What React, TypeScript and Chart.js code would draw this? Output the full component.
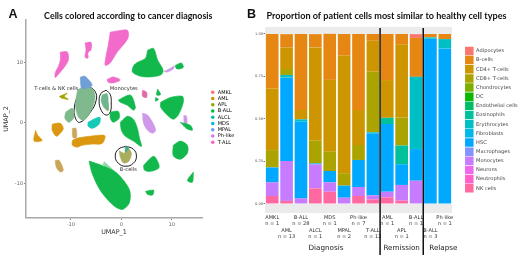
import React, { useEffect, useRef } from "react";
import { Chart, registerables } from "chart.js";

Chart.register(...registerables);

// ---------- Panel A ----------
const diagnoses = ["AMKL", "AML", "APL", "B-ALL", "ALCL", "MDS", "MPAL", "Ph-like", "T-ALL"];
const diagnosisColors = ["#F8766D", "#D39200", "#93AA00", "#00BA38", "#00C19F", "#00B9E3", "#619CFF", "#DB72FB", "#FF61C3"];
const umapXTicks = [-10, 0, 10];
const umapYTicks = [-10, 0, 10];

const PINK = "#f26bcb";
const GREEN = "#12b84c";
const ORANGE = "#da970f";
const TEAL = "#14c9b5";
const LILAC = "#cf98ea";
const LIGHTGREEN = "#8ddcab";
const SAGE = "#7fb98d";
const TAN = "#c9a65a";
const SKY = "#6f9fd6";

type P = number[][];
const pinkBig: P = [[-2.2, 15], [-0.8, 15.2], [1.2, 15.3], [1.4, 14.2], [0.8, 13.3], [-0.8, 11.7], [-2.2, 9.9], [-3.2, 9.5], [-3, 11.2], [-2.6, 12.8]];
const pinkTop: P = [[-7.2, 13.2], [-6, 13.3], [-6, 12.1], [-6.6, 11.6], [-6.6, 10.7], [-7.2, 10.9], [-7, 12.1]];
const pinkLeft: P = [[-12.1, 11.7], [-10.7, 11.7], [-10.5, 10.4], [-11.3, 9.2], [-12.3, 8.2], [-13.1, 7.5], [-13.1, 8.3], [-12.5, 9.3], [-12.1, 10.4]];
const pinkLittle: P = [[-2.8, 7.2], [-1.6, 7.6], [-0.2, 7.1], [-1.6, 6.6], [-2.6, 6.7]];
const pinkDot: P = [[4.2, 5.4], [5, 5.1], [5, 4.2], [4.2, 4.4]];
const greenTop: P = [[5.2, 12], [6.4, 12.3], [7.2, 10.4], [8.3, 8.7], [7.8, 7.9], [5.8, 7.6], [3.8, 7.7], [2.2, 8.4], [2.4, 9.4], [3.2, 10], [4.8, 10.7]];
const greenTiny: P = [[10.7, 9.5], [11.9, 9.9], [12.3, 9.2], [11.5, 8.9], [10.9, 9]];
const lilacTiny: P = [[8.5, 8.5], [9.7, 9], [10.5, 9.4], [10.3, 8.9], [9.1, 8.4]];
const greenRight: P = [[7.8, 3.4], [9.7, 4.2], [12.1, 4.4], [12.3, 3.4], [11.3, 1.3], [10.3, 0.6], [9.1, 1.3], [7.8, 2.6]];
const greenSpeckA: P = [[7.2, 5.6], [7.8, 4.7], [7, 4.6]];
const greenSpeckB: P = [[6.8, 4.2], [7.4, 3.9], [6.8, 3.6]];
const greenNearMono: P = [[-0.6, 3.8], [1.8, 4.6], [2.8, 2.6], [2.4, 2.1], [1.2, 2.9], [-0.2, 3.4]];
const greenMid: P = [[-0.2, 0.1], [1.2, 1.1], [2.4, 0.6], [3.2, -0.9], [3.6, -2.5], [4, -3.9], [2.4, -3], [0.8, -2.2], [0, -1.2]];
const greenSmallMid: P = [[-2.2, 1.8], [-0.6, 1.9], [-0.4, 0.8], [-1.6, 0.1], [-2.2, 0.8]];
const greenLowRight: P = [[10.3, -3.7], [11.7, -3], [13.1, -3.7], [13.1, -5], [11.7, -6], [10.3, -5.4]];
const greenLowMid: P = [[4.4, -7], [6.4, -5.5], [7.4, -6.7], [7.4, -7.5], [5.8, -8], [4.6, -7.8]];
const greenCrescent: P = [[4.8, -11.3], [6.4, -11.1], [6.2, -11.9], [5.2, -11.8]];
const greenSliver: P = [[14.3, -8.1], [14.1, -9.8], [13.1, -9.5]];
const greenHuge: P = [[-6.4, -6.3], [-4.2, -6.9], [-1, -8.2], [1.6, -11], [1.6, -13.2], [0.2, -14.3], [-1.6, -13.6], [-4.2, -11.1], [-5.8, -8.3]];
const greenFringe: P = [[-3.4, -6.4], [-1.8, -7.6], [0.8, -10], [0.6, -10.4], [-2.2, -8], [-3.6, -6.9]];
const tealBlob: P = [[-6.6, 0.1], [-5, 0.8], [-4.2, 0.9], [-4.4, -0.2], [-5.8, -0.9], [-6.6, -0.5]];
const orangeFar: P = [[-17, -1.2], [-16.6, -2], [-15.7, -2.9], [-17.3, -3]];
const orangeMid: P = [[-13.7, -0.2], [-12.1, -0.05], [-11.5, -0.9], [-12.1, -1.7], [-12.9, -2.2], [-13.7, -1.2]];
const orangeLong: P = [[-9.7, -2.9], [-8.7, -2.5], [-6.2, -2.2], [-3.8, -2], [-3.2, -2.2], [-3.8, -3.4], [-5.8, -3.5], [-7.8, -3.7], [-8.7, -4], [-9.7, -3.7]];
const tanStrip: P = [[-9.7, -0.9], [-9, -0.9], [-8.9, -2.4], [-9.6, -2.4]];
const tanSmall: P = [[-13.1, -6.2], [-12.3, -6.2], [-11.5, -7.8], [-12.1, -8.1], [-12.9, -7.3]];
const sageLeft: P = [[-11, 1.8], [-9.7, 2.4], [-9.4, 0.9], [-10.4, 0.1], [-11.2, 0.8]];
const oliveTiny: P = [[-12.3, 4.4], [-10.7, 4.9], [-11.3, 4.4], [-10.5, 3.9], [-11.9, 4.1]];
const skyCap: P = [[-8.15, 7.55], [-7.2, 7.7], [-5.8, 6.2], [-7.8, 5.7]];
const tcellMain: P = [[-8.7, 5.4], [-7.2, 6.1], [-5.8, 5.7], [-5.2, 4.4], [-5.8, 2.4], [-7.4, 0.45], [-8.5, 0.95], [-9.1, 2.9]];
const tcellOrange: P = [[-7.4, 5], [-6.8, 4.8], [-7.2, 2.4], [-8, 1.2], [-8.3, 1.6], [-7.8, 3]];
const tcellLilac: P = [[-6.3, 4.6], [-5.8, 4.2], [-6.3, 2.4], [-6.9, 1.8], [-6.9, 3]];
const monoInner: P = [[-3.8, 4.6], [-2.8, 4.8], [-2.6, 3.3], [-2.6, 2.1], [-3.4, 2.5], [-4, 3.7]];
const monoStreak: P = [[-3.2, 3.9], [-2.7, 3.6], [-2.6, 2], [-3.1, 2.4]];
const bcellInner: P = [[-0.4, -4.6], [0.6, -5], [1.6, -4.4], [2, -5.2], [1.4, -6.4], [0.4, -6.6], [-0.2, -5.6]];
const bcellTip: P = [[0.8, -3.9], [1.4, -4], [1.4, -5.2], [0.8, -5.2]];
const lilacMid: P = [[4.2, 1.6], [5.2, 1.3], [6.2, 0.1], [6.8, -1.2], [6.2, -1.7], [5.2, -1.2], [4.4, -0.05]];
const greenFarRight: P = [[11.7, 0.1], [13.7, -0.4], [14.1, -1.2], [12.9, -0.9]];
const lilacFarRight: P = [[12.4, 1.2], [12.9, 1.2], [13, -0.2], [12.5, -0.2]];
const tRing: P = [[-6.8, 6.2], [-5.2, 5.2], [-5, 3.7], [-6.2, 1.7], [-8.2, 0.1], [-9.1, 0.8], [-9.3, 2.6], [-8.5, 4.6]];
const monoRing: P = [[-3, 5.4], [-2.2, 4.7], [-2, 3.3], [-2.2, 1.8], [-3, 1.3], [-4, 2.1], [-4.4, 3.7], [-4, 4.9]];
const bRing: P = [[0.9, -3.85], [2.4, -4.35], [3, -5.5], [2.4, -6.65], [0.9, -7.15], [-0.6, -6.65], [-1.2, -5.5], [-0.6, -4.35]];

const blobs: [P, string][] = [
  [pinkBig, PINK], [pinkTop, PINK], [pinkLeft, PINK], [pinkLittle, PINK], [pinkDot, "#e06aa8"],
  [greenTop, GREEN], [greenTiny, GREEN], [lilacTiny, LILAC], [greenRight, GREEN], [greenSpeckA, GREEN], [greenSpeckB, GREEN],
  [greenNearMono, GREEN], [greenMid, GREEN], [greenSmallMid, GREEN], [greenLowRight, GREEN], [greenLowMid, GREEN],
  [greenCrescent, GREEN], [greenSliver, GREEN], [greenHuge, GREEN], [greenFringe, LIGHTGREEN], [tealBlob, TEAL],
  [orangeFar, ORANGE], [orangeMid, ORANGE], [orangeLong, ORANGE], [tanStrip, TAN], [tanSmall, TAN], [sageLeft, SAGE], [oliveTiny, "#a3a500"],
  [skyCap, SKY], [tcellMain, SAGE], [tcellOrange, "#d3a25c"], [tcellLilac, "#a5a0c8"],
  [monoInner, "#6fb58e"], [monoStreak, "#dd9a3c"], [bcellInner, "#a9ad5e"], [bcellTip, "#4aa88a"],
  [lilacMid, LILAC], [greenFarRight, GREEN], [lilacFarRight, LILAC],
];
const rings: P[] = [tRing, monoRing, bRing];
const callouts = ["T-cells & NK cells", "Monocytes", "B-cells"];
const calloutX = [-12.9, 0.5, 1.4];
const calloutY = [5.7, 5.7, -7.65];

// ---------- Panel B ----------
const groups = ["AMKL", "AML", "B-ALL", "ALCL", "MDS", "MPAL", "Ph-like", "T-ALL", "AML", "APL", "B-ALL", "B-ALL", "Ph-like"];
const sizes = ["n = 1", "n = 13", "n = 28", "n = 1", "n = 1", "n = 2", "n = 7", "n = 12", "n = 1", "n = 1", "n = 1", "n = 3", "n = 1"];
const cellTypes = ["Adipocytes", "B-cells", "CD4+ T-cells", "CD8+ T-cells", "Chondrocytes", "DC", "Endothelial cells", "Eosinophils", "Erythrocytes", "Fibroblasts", "HSC", "Macrophages", "Monocytes", "Neurons", "Neutrophils", "NK cells"];
const cellColors = ["#F8766D", "#E68613", "#CD9600", "#ABA300", "#7CAE00", "#0CB702", "#00BE67", "#00C19A", "#00BFC4", "#00B8E7", "#00A9FF", "#8494FF", "#C77CFF", "#ED68ED", "#FF61CC", "#FF68A1"];
const none = [0, 0, 0, 0, 0, 0, 0, 0, 0, 0, 0, 0, 0];
const adipocytes = [0, 0, 0, 0, 0, 0, 0, 0, 0, 0, 0.022, 0, 0];
const bCells = [0.32, 0.078, 0.447, 0.078, 0.271, 0.127, 0.447, 0.04, 0.271, 0.061, 0.229, 0.02, 0.03];
const cd4 = [0.363, 0.127, 0.055, 0.549, 0.422, 0.692, 0.206, 0.182, 0.222, 0.43, 0, 0, 0];
const cd8 = [0.102, 0.035, 0, 0.133, 0.114, 0.073, 0.088, 0.356, 0, 0.165, 0, 0, 0];
const eosinophils = [0, 0, 0, 0, 0, 0, 0, 0, 0.037, 0.11, 0, 0, 0];
const erythrocytes = [0, 0.016, 0.014, 0, 0, 0, 0, 0.006, 0, 0, 0.425, 0.008, 0.055];
const hsc = [0.088, 0.49, 0.451, 0.006, 0.067, 0.071, 0.159, 0.365, 0.398, 0.122, 0.186, 0.972, 0.915];
const monocytes = [0.08, 0.235, 0.033, 0.141, 0.055, 0.037, 0.053, 0.024, 0.033, 0.092, 0.137, 0, 0];
const nkCells = [0.047, 0.018, 0, 0.092, 0.072, 0, 0.047, 0.027, 0.039, 0.02, 0, 0, 0];
const cellValues = [adipocytes, bCells, cd4, cd8, none, none, none, eosinophils, erythrocytes, none, hsc, none, monocytes, none, none, nkCells];
const proportionTicks = [0, 0.25, 0.5, 0.75, 1];
const stages = ["Diagnosis", "Remission", "Relapse"];
const stageCenters = [3.74, 9, 11.9];
const stageBreaks = [7.5, 10.5];

const SANS = "'DejaVu Sans'";
const W = 520;
const H = 259;

function placeBoxes(legendLeft: number, legendTop: number, titleCenter: number, letter: string, letterX: number) {
  return {
    id: "placeBoxes",
    afterLayout(chart: any) {
      const lg = chart.legend;
      const dx = legendLeft - lg.left;
      const dy = legendTop - lg.top;
      lg.left += dx; lg.right += dx; lg.top += dy; lg.bottom += dy;
      const t = chart.titleBlock;
      t.left = titleCenter - 160;
      t.right = titleCenter + 160;
    },
    afterDraw(chart: any) {
      const c = chart.ctx;
      c.save();
      c.fillStyle = "#111";
      c.font = "bold 12.5px 'Liberation Sans'";
      c.textBaseline = "alphabetic";
      c.textAlign = "left";
      c.fillText(letter, letterX, 18);
      c.restore();
    },
  };
}

export default function App() {
  const aRef = useRef<HTMLCanvasElement | null>(null);
  const bRef = useRef<HTMLCanvasElement | null>(null);

  useEffect(() => {
    const blobSets = blobs.map(([pts, color]) => ({
      data: [...pts, pts[0]].map(([x, y]) => ({ x, y })),
      showLine: true,
      fill: "shape" as any,
      backgroundColor: color,
      borderColor: color,
      borderWidth: 0.6,
      tension: 0.3,
      pointRadius: 0,
    }));
    const ringSets = rings.map((pts) => ({
      data: [...pts, pts[0]].map(([x, y]) => ({ x, y })),
      showLine: true,
      fill: false,
      borderColor: "#1a1a1a",
      borderWidth: 1,
      tension: 0.45,
      pointRadius: 0,
    }));

    const a = new Chart(aRef.current!, {
      type: "scatter",
      data: { datasets: [...blobSets, ...ringSets] as any },
      options: {
        responsive: false,
        animation: false,
        layout: { autoPadding: false, padding: { right: W - 202 } },
        scales: {
          x: {
            type: "linear", min: -18.9, max: 16,
            afterFit: (s: any) => { s.height = H - 218; },
            afterBuildTicks: (s: any) => { s.ticks = umapXTicks.map((value) => ({ value })); },
            grid: { drawOnChartArea: false, tickLength: 2, color: "#888" },
            border: { color: "#a8a8a8", width: 1.5 },
            ticks: { font: { family: SANS, size: 5.2 }, color: "#666", padding: 2, callback: (v: any) => String(v), maxRotation: 0 },
            title: { display: true, text: "UMAP_1", font: { family: SANS, size: 6.4 }, color: "#333", padding: { top: 0, bottom: 23 } },
          },
          y: {
            type: "linear", min: -15.7, max: 17,
            afterFit: (s: any) => { s.width = 26; },
            afterBuildTicks: (s: any) => { s.ticks = umapYTicks.map((value) => ({ value })); },
            grid: { drawOnChartArea: false, tickLength: 2, color: "#888" },
            border: { color: "#a8a8a8", width: 1.5 },
            ticks: { font: { family: SANS, size: 5.2 }, color: "#666", padding: 1, callback: (v: any) => String(v) },
            title: { display: true, text: "UMAP_2", font: { family: SANS, size: 6.4 }, color: "#333", padding: { top: 3, bottom: 0 } },
          },
        },
        plugins: {
          tooltip: { enabled: false },
          title: {
            display: true,
            text: "Cells colored according to cancer diagnosis",
            font: { family: "Lato", size: 8.9, weight: "bold" },
            color: "#111",
            padding: { top: 10.5, bottom: -1.2 },
          },
          legend: {
            position: "chartArea" as any,
            align: "start",
            labels: {
              usePointStyle: true,
              boxHeight: 2.5,
              padding: 1.25,
              font: { family: SANS, size: 5 },
              color: "#444",
              generateLabels: () =>
                diagnoses.map((text, i) => ({
                  text, fillStyle: diagnosisColors[i], strokeStyle: diagnosisColors[i], lineWidth: 0, pointStyle: "circle", hidden: false, datasetIndex: i,
                })),
            },
          },
        },
      },
      plugins: [
        placeBoxes(209, 88.5, 128.3, "A", 8.5),
        {
          id: "callouts",
          afterDatasetsDraw(chart: any) {
            const c = chart.ctx;
            c.save();
            c.font = `5.2px ${SANS}`;
            c.fillStyle = "#333";
            c.textAlign = "center";
            c.textBaseline = "middle";
            callouts.forEach((t, i) => c.fillText(t, chart.scales.x.getPixelForValue(calloutX[i]), chart.scales.y.getPixelForValue(calloutY[i])));
            c.restore();
          },
        },
      ],
    } as any);

    const barSets = cellTypes
      .map((label, i) => ({ label, data: cellValues[i], backgroundColor: cellColors[i], borderWidth: 0, stack: "all", barPercentage: 0.88, categoryPercentage: 1 }))
      .reverse();

    const b = new Chart(bRef.current!, {
      type: "bar",
      data: { labels: groups.map((g, i) => (i % 2 === 0 ? [g, sizes[i]] : ["", "", g, sizes[i]])), datasets: barSets },
      options: {
        responsive: false,
        animation: false,
        layout: { autoPadding: false, padding: { left: 250, right: W - 452 } },
        scales: {
          x: {
            stacked: true,
            afterFit: (s: any) => { s.height = H - 213; },
            grid: { display: false, drawTicks: false },
            border: { display: false },
            ticks: { font: { family: SANS, size: 5.1, lineHeight: 1.28 }, color: "#333", padding: 1, maxRotation: 0, autoSkip: false },
          },
          y: {
            stacked: true, min: -0.053, max: 1.041,
            afterFit: (s: any) => { s.width = 15; },
            afterBuildTicks: (s: any) => { s.ticks = proportionTicks.map((value) => ({ value })); },
            grid: { drawOnChartArea: false, tickLength: 1.5, color: "#777" },
            border: { display: false },
            ticks: { font: { family: SANS, size: 3.6 }, color: "#555", padding: 0.5, callback: (v: any) => Number(v).toFixed(2) },
          },
        },
        plugins: {
          tooltip: { enabled: false },
          title: {
            display: true,
            text: "Proportion of patient cells most similar to healthy cell types",
            font: { family: "Lato", size: 9.1, weight: "bold" },
            color: "#111",
            padding: { top: 10.5, bottom: 5.6 },
          },
          legend: {
            position: "chartArea" as any,
            align: "start",
            reverse: true,
            labels: { boxWidth: 8.5, boxHeight: 8.5, padding: 0.66, font: { family: SANS, size: 5.1 }, color: "#444" },
          },
        },
      },
      plugins: [
        placeBoxes(464.4, 46, 386.5, "B", 247),
        {
          id: "panelBands",
          beforeDatasetsDraw(chart: any) {
            const c = chart.ctx;
            const { left, right, top, bottom } = chart.chartArea;
            const y = chart.scales.y;
            c.save();
            c.fillStyle = "#ebebeb";
            c.fillRect(left, top, right - left, y.getPixelForValue(1) - top);
            c.fillRect(left, y.getPixelForValue(0), right - left, bottom - y.getPixelForValue(0));
            c.restore();
          },
          afterDraw(chart: any) {
            const c = chart.ctx;
            const { top } = chart.chartArea;
            const x = chart.scales.x;
            c.save();
            c.strokeStyle = "#000";
            c.lineWidth = 1.4;
            stageBreaks.forEach((v) => {
              const px = x.getPixelForValue(v);
              c.beginPath();
              c.moveTo(px, top + 1);
              c.lineTo(px, chart.height - 4);
              c.stroke();
            });
            c.font = `7.2px ${SANS}`;
            c.fillStyle = "#222";
            c.textAlign = "center";
            c.textBaseline = "middle";
            stages.forEach((t, i) => c.fillText(t, x.getPixelForValue(stageCenters[i]), 248));
            c.restore();
          },
        },
      ],
    } as any);

    return () => {
      a.destroy();
      b.destroy();
    };
  }, []);

  const canvasStyle: React.CSSProperties = { position: "absolute", left: 0, top: 0, display: "block" };
  return (
    <div style={{ position: "fixed", left: 0, top: 0, width: W, height: H, background: "#fff", overflow: "hidden" }}>
      <canvas ref={aRef} width={W} height={H} style={canvasStyle} />
      <canvas ref={bRef} width={W} height={H} style={canvasStyle} />
    </div>
  );
}
